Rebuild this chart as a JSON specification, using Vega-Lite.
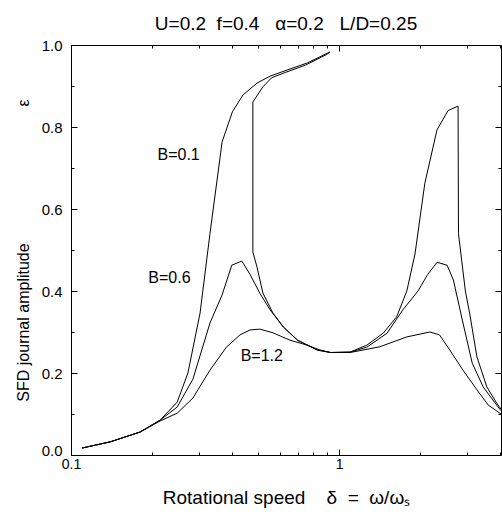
{
  "$schema": "https://vega.github.io/schema/vega-lite/v6.json",
  "autosize": "none",
  "width": 430,
  "height": 410,
  "padding": {"left": 71, "top": 45, "right": 1, "bottom": 64},
  "background": "white",
  "config": {
    "font": "Liberation Sans",
    "view": {"stroke": "black", "strokeWidth": 1},
    "axis": {"grid": false, "domain": false, "tickColor": "black", "labelColor": "black", "titleColor": "black", "labelFont": "Liberation Sans", "titleFont": "Liberation Sans", "titleFontWeight": "normal", "labelFlush": false}
  },
  "title": {
    "text": "U=0.2\u00a0\u00a0f=0.4\u00a0\u00a0\u00a0α=0.2\u00a0\u00a0\u00a0L/D=0.25",
    "fontSize": 19,
    "fontWeight": "normal",
    "font": "Liberation Sans",
    "color": "black",
    "baseline": "alphabetic",
    "offset": -11,
    "anchor": "middle"
  },
  "datasets": {
    "curves": [
      {"B": "B=0.1", "i": 1, "x": 0.11, "y": 0.017},
      {"B": "B=0.1", "i": 2, "x": 0.14, "y": 0.032},
      {"B": "B=0.1", "i": 3, "x": 0.181, "y": 0.056},
      {"B": "B=0.1", "i": 4, "x": 0.215, "y": 0.085},
      {"B": "B=0.1", "i": 5, "x": 0.249, "y": 0.129},
      {"B": "B=0.1", "i": 6, "x": 0.273, "y": 0.2},
      {"B": "B=0.1", "i": 7, "x": 0.303, "y": 0.346},
      {"B": "B=0.1", "i": 8, "x": 0.33, "y": 0.54},
      {"B": "B=0.1", "i": 9, "x": 0.36, "y": 0.727},
      {"B": "B=0.1", "i": 10, "x": 0.366, "y": 0.763},
      {"B": "B=0.1", "i": 11, "x": 0.4, "y": 0.837},
      {"B": "B=0.1", "i": 12, "x": 0.438, "y": 0.878},
      {"B": "B=0.1", "i": 13, "x": 0.494, "y": 0.907},
      {"B": "B=0.1", "i": 14, "x": 0.553, "y": 0.924},
      {"B": "B=0.1", "i": 15, "x": 0.64, "y": 0.939},
      {"B": "B=0.1", "i": 16, "x": 0.76, "y": 0.956},
      {"B": "B=0.1", "i": 17, "x": 0.925, "y": 0.983},
      {"B": "B=0.1", "i": 18, "x": 0.9, "y": 0.977},
      {"B": "B=0.1", "i": 19, "x": 0.75, "y": 0.951},
      {"B": "B=0.1", "i": 20, "x": 0.63, "y": 0.933},
      {"B": "B=0.1", "i": 21, "x": 0.56, "y": 0.92},
      {"B": "B=0.1", "i": 22, "x": 0.52, "y": 0.898},
      {"B": "B=0.1", "i": 23, "x": 0.477, "y": 0.861},
      {"B": "B=0.1", "i": 24, "x": 0.477, "y": 0.495},
      {"B": "B=0.1", "i": 25, "x": 0.494, "y": 0.459},
      {"B": "B=0.1", "i": 26, "x": 0.52, "y": 0.395},
      {"B": "B=0.1", "i": 27, "x": 0.567, "y": 0.346},
      {"B": "B=0.1", "i": 28, "x": 0.62, "y": 0.312},
      {"B": "B=0.1", "i": 29, "x": 0.7, "y": 0.28},
      {"B": "B=0.1", "i": 30, "x": 0.83, "y": 0.256},
      {"B": "B=0.1", "i": 31, "x": 0.93, "y": 0.25},
      {"B": "B=0.1", "i": 32, "x": 1.1, "y": 0.251},
      {"B": "B=0.1", "i": 33, "x": 1.27, "y": 0.268},
      {"B": "B=0.1", "i": 34, "x": 1.46, "y": 0.297},
      {"B": "B=0.1", "i": 35, "x": 1.64, "y": 0.337},
      {"B": "B=0.1", "i": 36, "x": 1.79, "y": 0.4},
      {"B": "B=0.1", "i": 37, "x": 1.92, "y": 0.49},
      {"B": "B=0.1", "i": 38, "x": 2.09, "y": 0.663},
      {"B": "B=0.1", "i": 39, "x": 2.32, "y": 0.793},
      {"B": "B=0.1", "i": 40, "x": 2.55, "y": 0.84},
      {"B": "B=0.1", "i": 41, "x": 2.78, "y": 0.851},
      {"B": "B=0.1", "i": 42, "x": 2.79, "y": 0.54},
      {"B": "B=0.1", "i": 43, "x": 2.96, "y": 0.4},
      {"B": "B=0.1", "i": 44, "x": 3.07, "y": 0.346},
      {"B": "B=0.1", "i": 45, "x": 3.27, "y": 0.239},
      {"B": "B=0.1", "i": 46, "x": 3.56, "y": 0.166},
      {"B": "B=0.1", "i": 47, "x": 3.87, "y": 0.127},
      {"B": "B=0.1", "i": 48, "x": 4.02, "y": 0.112},

      {"B": "B=0.6", "i": 1, "x": 0.11, "y": 0.017},
      {"B": "B=0.6", "i": 2, "x": 0.14, "y": 0.032},
      {"B": "B=0.6", "i": 3, "x": 0.181, "y": 0.056},
      {"B": "B=0.6", "i": 4, "x": 0.215, "y": 0.085},
      {"B": "B=0.6", "i": 5, "x": 0.249, "y": 0.117},
      {"B": "B=0.6", "i": 6, "x": 0.285, "y": 0.185},
      {"B": "B=0.6", "i": 7, "x": 0.33, "y": 0.322},
      {"B": "B=0.6", "i": 8, "x": 0.366, "y": 0.39},
      {"B": "B=0.6", "i": 9, "x": 0.398, "y": 0.463},
      {"B": "B=0.6", "i": 10, "x": 0.434, "y": 0.473},
      {"B": "B=0.6", "i": 11, "x": 0.466, "y": 0.44},
      {"B": "B=0.6", "i": 12, "x": 0.506, "y": 0.395},
      {"B": "B=0.6", "i": 13, "x": 0.553, "y": 0.354},
      {"B": "B=0.6", "i": 14, "x": 0.62, "y": 0.312},
      {"B": "B=0.6", "i": 15, "x": 0.7, "y": 0.28},
      {"B": "B=0.6", "i": 16, "x": 0.83, "y": 0.256},
      {"B": "B=0.6", "i": 17, "x": 0.93, "y": 0.25},
      {"B": "B=0.6", "i": 18, "x": 1.1, "y": 0.251},
      {"B": "B=0.6", "i": 19, "x": 1.27, "y": 0.263},
      {"B": "B=0.6", "i": 20, "x": 1.51, "y": 0.297},
      {"B": "B=0.6", "i": 21, "x": 1.73, "y": 0.354},
      {"B": "B=0.6", "i": 22, "x": 1.97, "y": 0.4},
      {"B": "B=0.6", "i": 23, "x": 2.14, "y": 0.44},
      {"B": "B=0.6", "i": 24, "x": 2.32, "y": 0.47},
      {"B": "B=0.6", "i": 25, "x": 2.53, "y": 0.463},
      {"B": "B=0.6", "i": 26, "x": 2.67, "y": 0.427},
      {"B": "B=0.6", "i": 27, "x": 2.9, "y": 0.322},
      {"B": "B=0.6", "i": 28, "x": 3.14, "y": 0.224},
      {"B": "B=0.6", "i": 29, "x": 3.45, "y": 0.166},
      {"B": "B=0.6", "i": 30, "x": 3.87, "y": 0.122},
      {"B": "B=0.6", "i": 31, "x": 4.02, "y": 0.108},

      {"B": "B=1.2", "i": 1, "x": 0.11, "y": 0.017},
      {"B": "B=1.2", "i": 2, "x": 0.14, "y": 0.032},
      {"B": "B=1.2", "i": 3, "x": 0.181, "y": 0.056},
      {"B": "B=1.2", "i": 4, "x": 0.215, "y": 0.083},
      {"B": "B=1.2", "i": 5, "x": 0.249, "y": 0.102},
      {"B": "B=1.2", "i": 6, "x": 0.285, "y": 0.139},
      {"B": "B=1.2", "i": 7, "x": 0.33, "y": 0.207},
      {"B": "B=1.2", "i": 8, "x": 0.38, "y": 0.263},
      {"B": "B=1.2", "i": 9, "x": 0.427, "y": 0.293},
      {"B": "B=1.2", "i": 10, "x": 0.466, "y": 0.305},
      {"B": "B=1.2", "i": 11, "x": 0.506, "y": 0.307},
      {"B": "B=1.2", "i": 12, "x": 0.567, "y": 0.298},
      {"B": "B=1.2", "i": 13, "x": 0.656, "y": 0.28},
      {"B": "B=1.2", "i": 14, "x": 0.76, "y": 0.268},
      {"B": "B=1.2", "i": 15, "x": 0.85, "y": 0.256},
      {"B": "B=1.2", "i": 16, "x": 0.93, "y": 0.25},
      {"B": "B=1.2", "i": 17, "x": 1.1, "y": 0.25},
      {"B": "B=1.2", "i": 18, "x": 1.42, "y": 0.264},
      {"B": "B=1.2", "i": 19, "x": 1.79, "y": 0.288},
      {"B": "B=1.2", "i": 20, "x": 2.18, "y": 0.3},
      {"B": "B=1.2", "i": 21, "x": 2.37, "y": 0.293},
      {"B": "B=1.2", "i": 22, "x": 2.59, "y": 0.256},
      {"B": "B=1.2", "i": 23, "x": 2.9, "y": 0.207},
      {"B": "B=1.2", "i": 24, "x": 3.27, "y": 0.159},
      {"B": "B=1.2", "i": 25, "x": 3.6, "y": 0.122},
      {"B": "B=1.2", "i": 26, "x": 4.02, "y": 0.1}
    ],
    "labels": [
      {"label": "B=0.1", "x": 0.252, "y": 0.732},
      {"label": "B=0.6", "x": 0.233, "y": 0.432},
      {"label": "B=1.2", "x": 0.515, "y": 0.241}
    ]
  },
  "layer": [
    {
      "data": {"name": "curves"},
      "mark": {"type": "line", "color": "black", "strokeWidth": 1, "clip": true},
      "encoding": {
        "x": {
          "field": "x", "type": "quantitative",
          "scale": {"type": "log", "domain": [0.1, 4.02], "nice": false, "zero": false},
          "axis": {
            "orient": "bottom",
            "title": "Rotational speed\u00a0\u00a0\u00a0\u00a0δ\u00a0\u00a0=\u00a0\u00a0ω/ωₛ",
            "titleFontSize": 19,
            "titlePadding": 17,
            "values": [0.1, 0.2, 0.3, 0.4, 0.5, 0.6, 0.7, 0.8, 0.9, 1, 2, 3, 4],
            "labelExpr": "datum.value == 0.1 ? '0.1' : (datum.value == 1 ? '1' : '')",
            "labelFontSize": 14,
            "labelPadding": 8,
            "tickSize": {"condition": {"test": "datum.value == 0.1 || datum.value == 1", "value": -6}, "value": -3}
          }
        },
        "y": {
          "field": "y", "type": "quantitative",
          "scale": {"domain": [0, 1], "nice": false, "zero": false},
          "axis": {
            "orient": "left",
            "title": "SFD journal amplitude\u2003\u2003\u2003\u2003\u2003\u2003\u2003\u2003\u00a0\u00a0ε",
            "titleFontSize": 16,
            "titlePadding": 10,
            "values": [0, 0.1, 0.2, 0.3, 0.4, 0.5, 0.6, 0.7, 0.8, 0.9, 1],
            "labelExpr": "round(datum.value * 10) % 2 == 0 ? format(datum.value, '.1f') : ''",
            "labelFontSize": 15,
            "labelPadding": 15,
            "labelBaseline": {"condition": {"test": "datum.value == 0", "value": "alphabetic"}, "value": "middle"},
            "tickSize": {"condition": {"test": "round(datum.value * 10) % 2 == 0", "value": -6}, "value": -3}
          }
        },
        "detail": {"field": "B", "type": "nominal"},
        "order": {"field": "i", "type": "quantitative"}
      }
    },
    {
      "data": {"name": "labels"},
      "mark": {"type": "text", "color": "black", "fontSize": 16, "font": "Liberation Sans", "align": "center", "baseline": "middle"},
      "encoding": {
        "x": {
          "field": "x", "type": "quantitative",
          "axis": {
            "orient": "top", "title": null, "labels": false,
            "values": [0.2, 0.3, 0.4, 0.5, 0.6, 0.7, 0.8, 0.9, 1, 2, 3, 4],
            "tickSize": {"condition": {"test": "datum.value == 1", "value": -6}, "value": -3}
          }
        },
        "y": {
          "field": "y", "type": "quantitative",
          "axis": {
            "orient": "right", "title": null, "labels": false,
            "values": [0.1, 0.2, 0.3, 0.4, 0.5, 0.6, 0.7, 0.8, 0.9],
            "tickSize": {"condition": {"test": "round(datum.value * 10) % 2 == 0", "value": -6}, "value": -3}
          }
        },
        "text": {"field": "label", "type": "nominal"}
      }
    }
  ],
  "resolve": {"axis": {"x": "independent", "y": "independent"}}
}
